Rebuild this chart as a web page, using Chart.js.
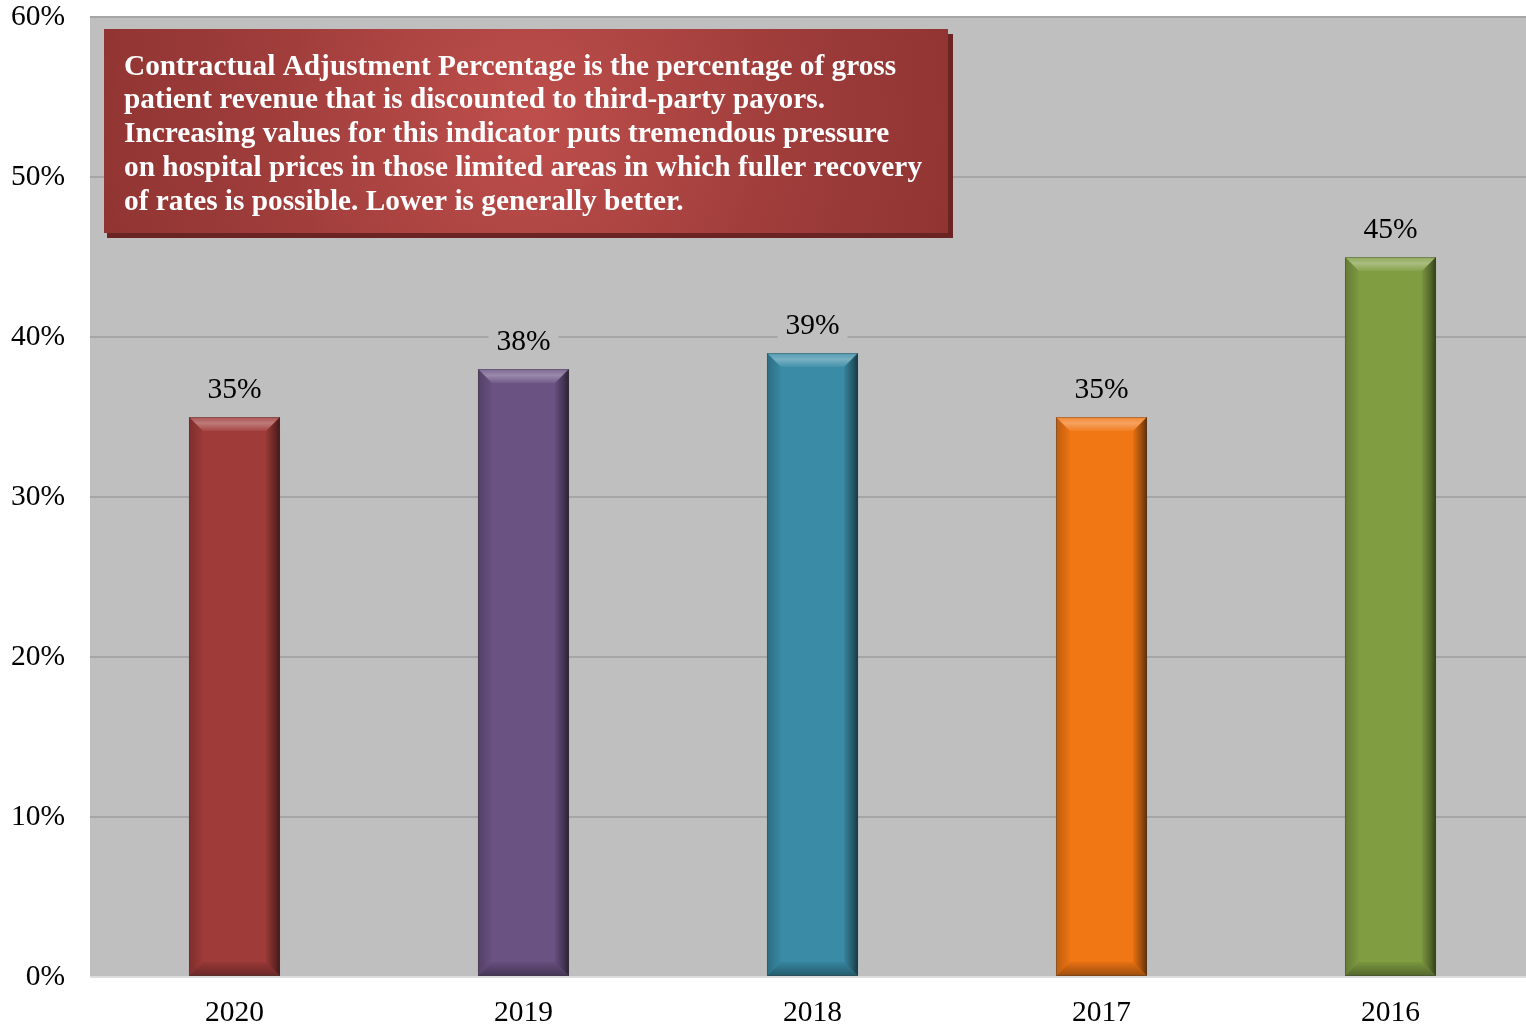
<!DOCTYPE html>
<html>
<head>
<meta charset="utf-8">
<script src="https://cdn.jsdelivr.net/npm/chart.js@4.4.1/dist/chart.umd.min.js"></script>
<style>
  html, body { margin: 0; padding: 0; background: #ffffff; overflow: hidden; }
  #wrap { width: 1536px; height: 1028px; }
</style>
</head>
<body>
<div id="wrap"><canvas id="chart" width="1536" height="1028"></canvas></div>
<script>
// Contractual adjustment percentage by year
const years = ['2020', '2019', '2018', '2017', '2016'];
const adjustmentPct = [35, 38, 39, 35, 45];
const barColors = ['#9f3b39', '#6a5283', '#398ba6', '#f17614', '#809d42'];
const yTicks = [0, 10, 20, 30, 40, 50, 60];
const noteLines = [
  'Contractual Adjustment Percentage is the percentage of gross',
  'patient revenue that is discounted to third-party payors.',
  'Increasing values for this indicator puts tremendous pressure',
  'on hospital prices in those limited areas in which fuller recovery',
  'of rates is possible. Lower is generally better.'
];

const SERIF = '"Liberation Serif", "Times New Roman", serif';
const PLOT_BG = '#bfbfbf';

// grey plot background
const plotBackground = {
  id: 'plotBackground',
  beforeDraw(chart) {
    const { ctx, chartArea: a } = chart;
    ctx.save();
    ctx.fillStyle = PLOT_BG;
    ctx.fillRect(a.left, a.top, a.right - a.left, a.bottom - a.top);
    ctx.restore();
  }
};

// bevelled edges on every bar
const bevel = {
  id: 'bevel',
  afterDatasetsDraw(chart) {
    const { ctx } = chart;
    const meta = chart.getDatasetMeta(0);
    meta.data.forEach((bar) => {
      const L = bar.x - bar.width / 2, R = bar.x + bar.width / 2;
      const T = bar.y, B = bar.base;
      const b = 14;
      ctx.save();
      // top face
      let g = ctx.createLinearGradient(0, T, 0, T + b);
      g.addColorStop(0, 'rgba(255,255,255,0.12)');
      g.addColorStop(0.45, 'rgba(255,255,255,0.32)');
      g.addColorStop(1, 'rgba(255,255,255,0.06)');
      ctx.fillStyle = g;
      ctx.beginPath();
      ctx.moveTo(L, T); ctx.lineTo(R, T); ctx.lineTo(R - b, T + b); ctx.lineTo(L + b, T + b);
      ctx.closePath(); ctx.fill();
      // right face
      g = ctx.createLinearGradient(R - b, 0, R, 0);
      g.addColorStop(0, 'rgba(0,0,0,0.05)');
      g.addColorStop(0.6, 'rgba(0,0,0,0.35)');
      g.addColorStop(1, 'rgba(0,0,0,0.6)');
      ctx.fillStyle = g;
      ctx.beginPath();
      ctx.moveTo(R, T); ctx.lineTo(R, B); ctx.lineTo(R - b, B - b); ctx.lineTo(R - b, T + b);
      ctx.closePath(); ctx.fill();
      // bottom face
      g = ctx.createLinearGradient(0, B - b, 0, B);
      g.addColorStop(0, 'rgba(0,0,0,0.05)');
      g.addColorStop(1, 'rgba(0,0,0,0.35)');
      ctx.fillStyle = g;
      ctx.beginPath();
      ctx.moveTo(L, B); ctx.lineTo(R, B); ctx.lineTo(R - b, B - b); ctx.lineTo(L + b, B - b);
      ctx.closePath(); ctx.fill();
      // left face
      g = ctx.createLinearGradient(L, 0, L + b, 0);
      g.addColorStop(0, 'rgba(0,0,0,0.22)');
      g.addColorStop(1, 'rgba(0,0,0,0.02)');
      ctx.fillStyle = g;
      ctx.beginPath();
      ctx.moveTo(L, T); ctx.lineTo(L + b, T + b); ctx.lineTo(L + b, B - b); ctx.lineTo(L, B);
      ctx.closePath(); ctx.fill();
      // thin outline
      ctx.strokeStyle = 'rgba(60,60,60,0.35)';
      ctx.lineWidth = 1;
      ctx.strokeRect(L + 0.5, T + 0.5, R - L - 1, B - T - 1);
      ctx.restore();
    });
  }
};

// value labels above bars
const valueLabels = {
  id: 'valueLabels',
  afterDatasetsDraw(chart) {
    const { ctx } = chart;
    const meta = chart.getDatasetMeta(0);
    const data = chart.data.datasets[0].data;
    ctx.save();
    ctx.font = '29.5px ' + SERIF;
    ctx.textAlign = 'center';
    ctx.textBaseline = 'middle';
    meta.data.forEach((bar, i) => {
      const text = data[i] + '%';
      const y = bar.y - 27;
      const w = ctx.measureText(text).width + 16;
      ctx.fillStyle = PLOT_BG;
      ctx.fillRect(bar.x - w / 2, y - 15, w, 30);
      ctx.fillStyle = '#000000';
      ctx.fillText(text, bar.x, y);
    });
    ctx.restore();
  }
};

// explanatory note box in the upper-left of the plot
const noteBox = {
  id: 'noteBox',
  afterDraw(chart) {
    const { ctx, chartArea: a } = chart;
    const x = a.left + 14, y = a.top + 12, w = 844, h = 204;
    ctx.save();
    // drop shadow
    ctx.fillStyle = '#6a2423';
    ctx.fillRect(x + 3, y + 5, w + 2, h);
    const g = ctx.createRadialGradient(x + w * 0.5, y + h * 0.45, 10, x + w * 0.5, y + h * 0.45, w * 0.55);
    g.addColorStop(0, '#bd4e4b');
    g.addColorStop(0.55, '#9f3d3b');
    g.addColorStop(1, '#8e3331');
    ctx.fillStyle = g;
    ctx.fillRect(x, y, w, h);
    ctx.fillStyle = '#ffffff';
    ctx.font = 'bold 29.3px ' + SERIF;
    ctx.textAlign = 'left';
    ctx.textBaseline = 'middle';
    noteLines.forEach((line, i) => {
      ctx.fillText(line, x + 20, y + 38 + i * 33.8);
    });
    ctx.restore();
  }
};

new Chart(document.getElementById('chart'), {
  type: 'bar',
  data: {
    labels: years,
    datasets: [{
      data: adjustmentPct,
      backgroundColor: barColors,
      borderWidth: 0,
      categoryPercentage: 1,
      barPercentage: 0.315
    }]
  },
  options: {
    responsive: false,
    animation: false,
    events: [],
    layout: { padding: { top: 17, right: 1, left: 0, bottom: 0 } },
    plugins: {
      legend: { display: false },
      tooltip: { enabled: false }
    },
    scales: {
      x: {
        grid: { display: false, drawTicks: false },
        border: { display: false },
        ticks: {
          color: '#000000',
          font: { family: SERIF, size: 29.5 },
          padding: 19
        },
        afterFit(scale) {
          scale.height = 51;
          scale.paddingLeft = 0;
          scale.paddingRight = 0;
        }
      },
      y: {
        min: 0,
        max: 60,
        afterBuildTicks(scale) { scale.ticks = yTicks.map(v => ({ value: v })); },
        grid: {
          drawTicks: false,
          lineWidth: 2,
          color: (c) => c.tick && c.tick.value === 0 ? '#dcdcdc' : '#a6a6a6'
        },
        border: { display: false },
        ticks: {
          color: '#000000',
          font: { family: SERIF, size: 29.5 },
          padding: 25,
          callback: (v) => v + '%'
        },
        afterFit(scale) {
          scale.width = 90;
          scale.paddingTop = 0;
          scale.paddingBottom = 0;
        }
      }
    }
  },
  plugins: [plotBackground, bevel, valueLabels, noteBox]
});
</script>
</body>
</html>
